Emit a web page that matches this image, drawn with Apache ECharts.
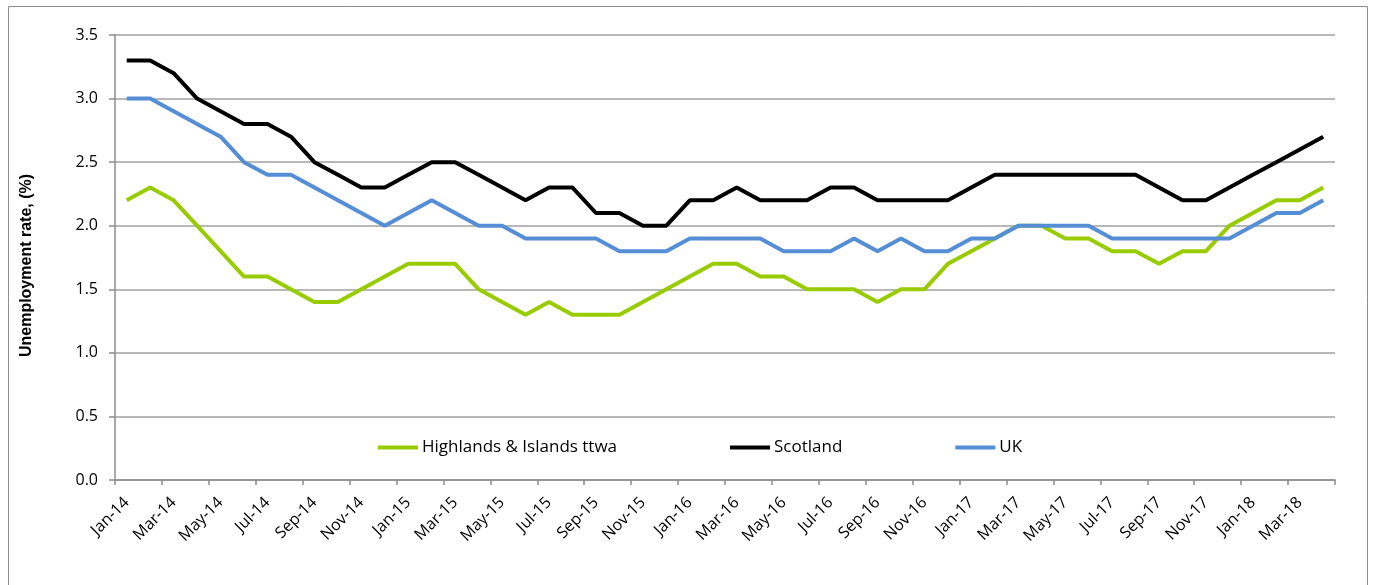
<!DOCTYPE html>
<html><head><meta charset="utf-8">
<script src="https://cdn.jsdelivr.net/npm/echarts@6/dist/echarts.min.js"></script>
<style>html,body{margin:0;padding:0;background:#fff}#c{width:1374px;height:585px}</style>
</head><body><div id="c"></div>
<script>
const months = ['Jan','Feb','Mar','Apr','May','Jun','Jul','Aug','Sep','Oct','Nov','Dec'];
const categories = [];
for (const y of ['14','15','16','17','18']) for (const m of months) categories.push(m + '-' + y);
categories.length = 52; // Jan-14 .. Apr-18

const highlands = [2.2,2.3,2.2,2.0,1.8,1.6,1.6,1.5,1.4,1.4,1.5,1.6,
                   1.7,1.7,1.7,1.5,1.4,1.3,1.4,1.3,1.3,1.3,1.4,1.5,
                   1.6,1.7,1.7,1.6,1.6,1.5,1.5,1.5,1.4,1.5,1.5,1.7,
                   1.8,1.9,2.0,2.0,1.9,1.9,1.8,1.8,1.7,1.8,1.8,2.0,
                   2.1,2.2,2.2,2.3];
const scotland = [3.3,3.3,3.2,3.0,2.9,2.8,2.8,2.7,2.5,2.4,2.3,2.3,
                  2.4,2.5,2.5,2.4,2.3,2.2,2.3,2.3,2.1,2.1,2.0,2.0,
                  2.2,2.2,2.3,2.2,2.2,2.2,2.3,2.3,2.2,2.2,2.2,2.2,
                  2.3,2.4,2.4,2.4,2.4,2.4,2.4,2.4,2.3,2.2,2.2,2.3,
                  2.4,2.5,2.6,2.7];
const uk = [3.0,3.0,2.9,2.8,2.7,2.5,2.4,2.4,2.3,2.2,2.1,2.0,
            2.1,2.2,2.1,2.0,2.0,1.9,1.9,1.9,1.9,1.8,1.8,1.8,
            1.9,1.9,1.9,1.9,1.8,1.8,1.8,1.9,1.8,1.9,1.8,1.8,
            1.9,1.9,2.0,2.0,2.0,2.0,1.9,1.9,1.9,1.9,1.9,1.9,
            2.0,2.1,2.1,2.2];
const yTicks = [0, 0.5, 1.0, 1.5, 2.0, 2.5, 3.0, 3.5];

const chart = echarts.init(document.getElementById('c'));
const font = "'Open Sans', 'Liberation Sans', sans-serif";
chart.setOption({
  animation: false,
  backgroundColor: '#fff',
  graphic: [{type: 'rect', shape: {x: 8.5, y: 6.5, width: 1359, height: 620}, style: {fill: 'none', stroke: '#8c8c8c', lineWidth: 1}}],
  grid: {left: 115, right: 39, top: 35, bottom: 105, containLabel: false},
  legend: {
    left: 373, top: 434, itemGap: 113, itemWidth: 40, itemHeight: 4, icon: 'rect',
    textStyle: {fontFamily: font, fontSize: 17, color: '#000', padding: [0,0,0,-1]},
    data: ['Highlands & Islands ttwa', 'Scotland', 'UK']
  },
  xAxis: {
    type: 'category', data: categories, boundaryGap: true,
    axisLine: {lineStyle: {color: '#8c8c8c', width: 1.5}},
    axisTick: {show: true, interval: 1, length: 5, lineStyle: {color: '#8c8c8c', width: 1.5}},
    axisLabel: {interval: 1, rotate: 45, margin: 20, fontFamily: font, fontSize: 16, color: '#000'},
    splitLine: {show: false}
  },
  yAxis: {
    type: 'value', min: yTicks[0], max: yTicks[yTicks.length - 1], interval: 0.5,
    name: 'Unemployment rate, (%)', nameLocation: 'middle', nameGap: 80, nameRotate: 90,
    nameTextStyle: {fontFamily: "'Liberation Sans', Arial, sans-serif", fontWeight: 'bold', fontSize: 16, color: '#000', padding: [0,16,0,0]},
    axisLine: {show: true, lineStyle: {color: '#8c8c8c', width: 1.5}},
    axisTick: {show: true, length: 6, lineStyle: {color: '#8c8c8c', width: 1.5}},
    axisLabel: {formatter: v => v.toFixed(1), fontFamily: font, fontSize: 16, color: '#000', margin: 17},
    splitLine: {lineStyle: {color: '#a0a0a0', width: 1.5}}
  },
  series: [
    {name: 'Highlands & Islands ttwa', type: 'line', data: highlands, symbol: 'none', lineStyle: {color: '#99cc00', width: 4}, itemStyle: {color: '#99cc00'}, z: 3},
    {name: 'Scotland', type: 'line', data: scotland, symbol: 'none', lineStyle: {color: '#000000', width: 4}, itemStyle: {color: '#000'}, z: 2},
    {name: 'UK', type: 'line', data: uk, symbol: 'none', lineStyle: {color: '#558ed5', width: 4}, itemStyle: {color: '#558ed5'}, z: 4}
  ]
});
</script></body></html>
